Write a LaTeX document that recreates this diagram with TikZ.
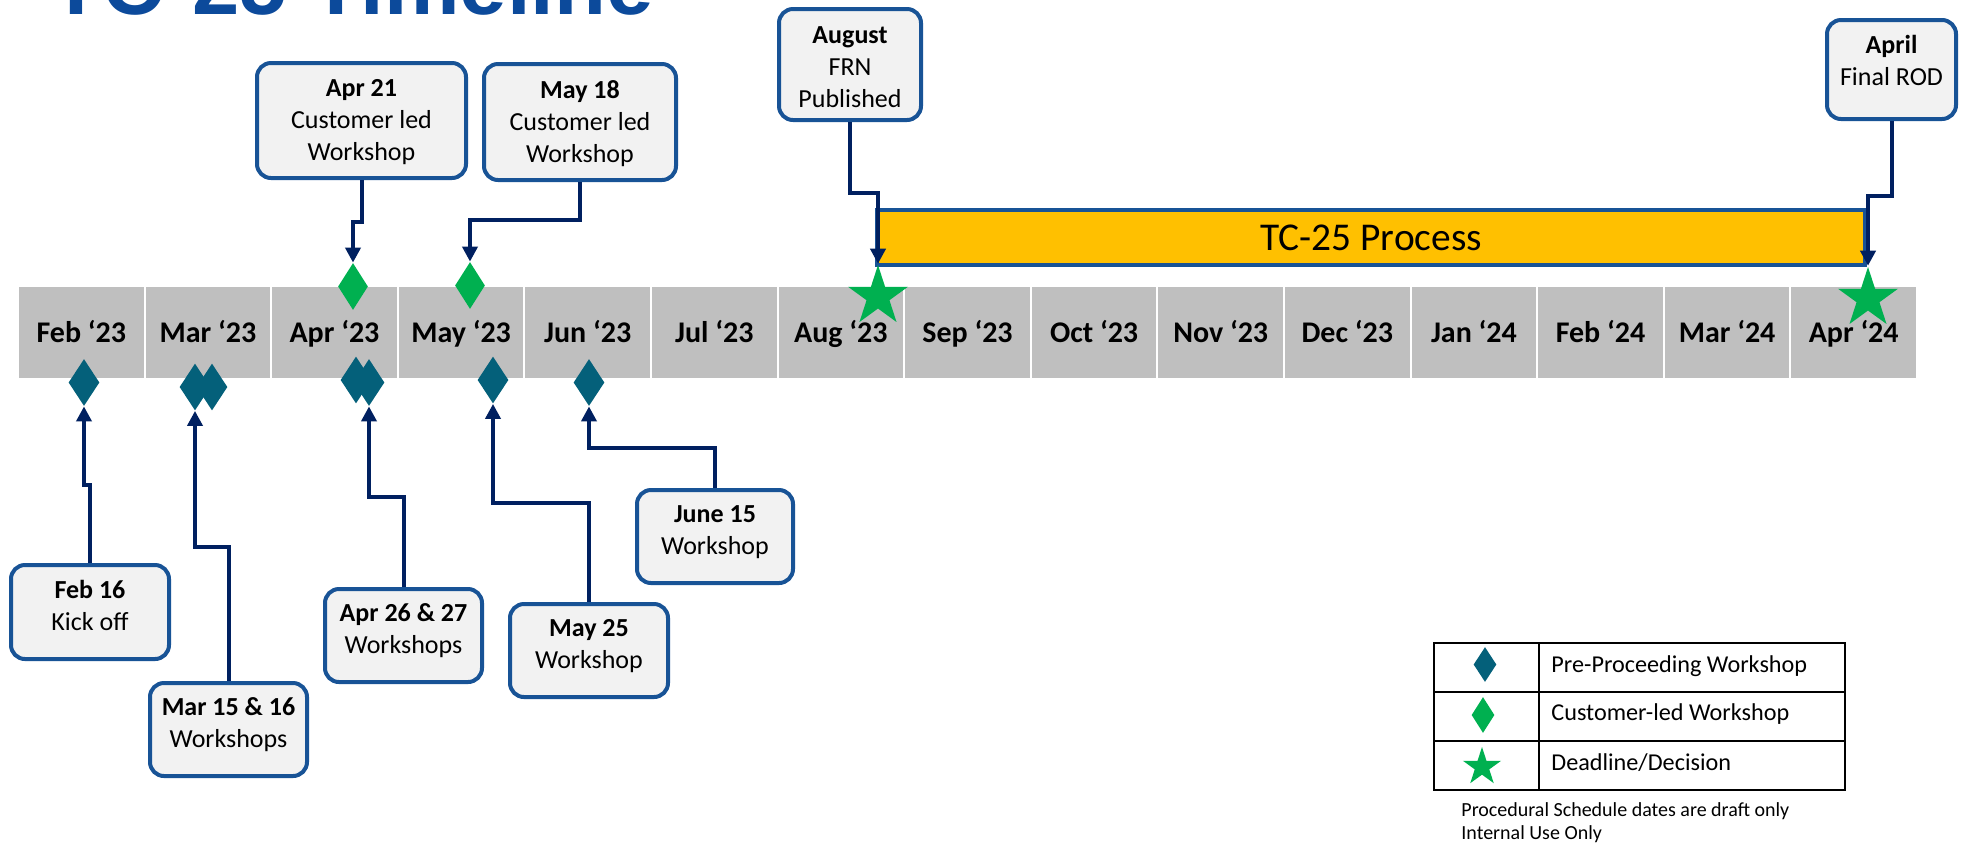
\documentclass[tikz,border=0pt]{standalone}
\usepackage{fontspec}
\setmainfont{Carlito}
\newfontfamily\titlefont{Liberation Sans}
\usetikzlibrary{shapes.geometric,arrows.meta}
\definecolor{boxborder}{RGB}{24,83,150}
\definecolor{boxfill}{RGB}{242,242,242}
\definecolor{connblue}{RGB}{0,32,96}
\definecolor{cellgrey}{RGB}{191,191,191}
\definecolor{preteal}{RGB}{4,96,122}
\definecolor{ogreen}{RGB}{0,176,80}
\definecolor{ogold}{RGB}{255,192,0}
\definecolor{titleblue}{RGB}{12,74,155}
\tikzset{
  evbox/.style={draw=boxborder, line width=2pt, fill=boxfill, rounded corners=7pt, inner sep=0pt},
  evtext/.style={inner sep=0pt, font=\fontsize{13}{16}\selectfont},
  linkarrow/.style={draw=connblue, line width=2pt, -{Triangle[length=7.5pt,width=7.5pt]}},
  monthcell/.style={fill=cellgrey, minimum width=62.3pt, minimum height=45.5pt, inner sep=0pt,
    text height=9.7pt, text depth=0pt, font=\fontsize{15}{18}\selectfont\bfseries},
  tealdia/.style={diamond, fill=preteal, inner sep=0pt, minimum width=15.5pt, minimum height=23.5pt},
  greendia/.style={diamond, fill=ogreen, inner sep=0pt, minimum width=15pt, minimum height=23.5pt},
  gstar/.style={star, star points=5, star point ratio=2.618, fill=ogreen, inner sep=0pt, minimum size=31.5pt},
  procbar/.style={draw=boxborder, line width=2pt, fill=ogold, minimum width=494pt, minimum height=27.5pt,
    inner sep=0pt, text height=12.7pt, text depth=0pt, font=\fontsize{19.7}{24}\selectfont},
  legtext/.style={anchor=west, inner sep=0pt, text height=7.8pt, text depth=0pt, font=\fontsize{12.1}{14}\selectfont},
  foottext/.style={anchor=west, inner sep=0pt, text height=6.4pt, text depth=0pt, font=\fontsize{10}{12}\selectfont},
  tablerule/.style={draw=black, line width=1pt}
}
\newcommand{\twol}[2]{\begin{tabular}{@{}c@{}}\textbf{#1}\\#2\end{tabular}}
\newcommand{\threel}[3]{\begin{tabular}{@{}c@{}}\textbf{#1}\\#2\\#3\end{tabular}}
\begin{document}
\begin{tikzpicture}[x=0.5pt,y=-0.5pt]
\useasboundingbox (0,0) rectangle (1965,843);

% title (cut off at top)
\node[anchor=base west, inner sep=0pt, text=titleblue,
  font=\titlefont\bfseries\fontsize{42.5}{48}\selectfont] (title) at (50,14) {TC-25 Timeline};

% month cells
\foreach \m [count=\i from 0] in {Feb ‘23,Mar ‘23,Apr ‘23,May ‘23,Jun ‘23,Jul ‘23,Aug ‘23,Sep ‘23,Oct ‘23,Nov ‘23,Dec ‘23,Jan ‘24,Feb ‘24,Mar ‘24,Apr ‘24}
  \node[monthcell] (m\i) at ({81.3+126.6*\i},332.5) {\m};

% process bar
\node[procbar] (proc) at (1371,237.5) {TC-25 Process};

% event boxes (top)
\node[evbox, minimum width=104.5pt, minimum height=57.5pt] (bApr21) at (361.5,120.5) {};
\node[evtext] (tApr21) at ([yshift=-1pt]bApr21.center) {\threel{Apr 21}{Customer led}{Workshop}};
\node[evbox, minimum width=96pt, minimum height=58pt] (bMay18) at (580,122) {};
\node[evtext] (tMay18) at ([yshift=-1pt]bMay18.center) {\threel{May 18}{Customer led}{Workshop}};
\node[evbox, minimum width=71pt, minimum height=55.5pt] (bAug) at (850,64.5) {};
\node[evtext] (tAug) at ([yshift=-2.2pt]bAug.center) {\threel{August}{FRN}{Published}};
\node[evbox, minimum width=64.5pt, minimum height=49.5pt] (bApril) at (1891.5,69.5) {};
\node[evtext] (tApril) at ([yshift=3.35pt]bApril.center) {\twol{April}{Final ROD}};

% event boxes (bottom)
\node[evbox, minimum width=79pt, minimum height=47pt] (bFeb16) at (90,612) {};
\node[evtext] (tFeb16) at ([yshift=2pt]bFeb16.center) {\twol{Feb 16}{Kick off}};
\node[evbox, minimum width=78.5pt, minimum height=46.5pt] (bMar) at (228.5,729.5) {};
\node[evtext] (tMar) at ([yshift=2pt]bMar.center) {\twol{Mar 15 \& 16}{Workshops}};
\node[evbox, minimum width=78.5pt, minimum height=46.5pt] (bApr26) at (403.5,635.5) {};
\node[evtext] (tApr26) at ([yshift=2pt]bApr26.center) {\twol{Apr 26 \& 27}{Workshops}};
\node[evbox, minimum width=79pt, minimum height=46.5pt] (bMay25) at (589,650.5) {};
\node[evtext] (tMay25) at ([yshift=2pt]bMay25.center) {\twol{May 25}{Workshop}};
\node[evbox, minimum width=78pt, minimum height=46.5pt] (bJun15) at (715,536.5) {};
\node[evtext] (tJun15) at ([yshift=2pt]bJun15.center) {\twol{June 15}{Workshop}};

% markers
\node[tealdia] (dFeb) at (84,382.5) {};
\node[tealdia] (dMarA) at (195,387) {};
\node[tealdia] (dMarB) at (212,387) {};
\node[tealdia] (dAprA) at (356,380) {};
\node[tealdia] (dAprB) at (369,382.5) {};
\node[tealdia] (dMay) at (493,380) {};
\node[tealdia] (dJun) at (589,382.5) {};
\node[greendia] (gApr) at (353,286.5) {};
\node[greendia] (gMay) at (470,285.5) {};
\node[gstar] (sAug) at (878,296.5) {};
\node[gstar] (sApr) at (1868,298.5) {};

% connectors
\draw[linkarrow] (bApr21.south) -- (bApr21.south |- 0,222) -- (gApr.north |- 0,222) -- (gApr.north);
\draw[linkarrow] (bMay18.south) -- (bMay18.south |- 0,220) -- (gMay.north |- 0,220) -- (gMay.north);
\draw[linkarrow] (bAug.south) -- (bAug.south |- 0,193) -- (sAug.north |- 0,193) -- (sAug.north);
\draw[linkarrow] (bApril.south) -- (bApril.south |- 0,196) -- (sApr.north |- 0,196) -- (sApr.north);
\draw[linkarrow] (bFeb16.north) -- (bFeb16.north |- 0,485) -- (dFeb.south |- 0,485) -- (dFeb.south);
\draw[linkarrow] (bMar.north) -- (bMar.north |- 0,547) -- (dMarA.south |- 0,547) -- (dMarA.south);
\draw[linkarrow] (bApr26.north) -- (bApr26.north |- 0,497) -- (dAprB.south |- 0,497) -- (dAprB.south);
\draw[linkarrow] (bMay25.north) -- (bMay25.north |- 0,503) -- (dMay.south |- 0,503) -- (dMay.south);
\draw[linkarrow] (bJun15.north) -- (bJun15.north |- 0,448) -- (dJun.south |- 0,448) -- (dJun.south);

% legend
\draw[tablerule] (1434,643) rectangle (1845,790);
\draw[tablerule] (1539,643) -- (1539,790);
\draw[tablerule] (1434,692) -- (1845,692);
\draw[tablerule] (1434,741) -- (1845,741);
\node[tealdia, minimum width=11.5pt, minimum height=17.5pt] (lgTeal) at (1485,664.5) {};
\node[greendia, minimum width=11.5pt, minimum height=18pt] (lgGreen) at (1483,715) {};
\node[gstar, minimum size=20pt] (lgStar) at (1482,767) {};
\node[legtext] (lgT1) at (1551,665) {Pre-Proceeding Workshop};
\node[legtext] (lgT2) at (1551,713) {Customer-led Workshop};
\node[legtext] (lgT3) at (1551,763) {Deadline/Decision};
\node[foottext] (foot1) at (1461,810) {Procedural Schedule dates are draft only};
\node[foottext] (foot2) at (1461,833) {Internal Use Only};
\end{tikzpicture}
\end{document}
